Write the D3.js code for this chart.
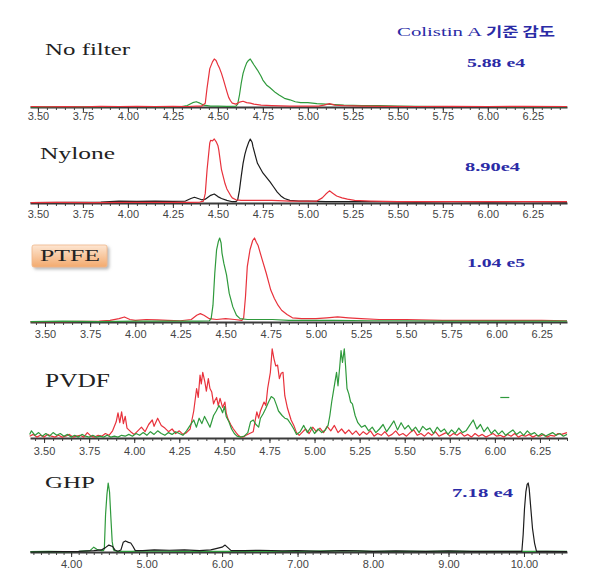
<!DOCTYPE html>
<html>
<head>
<meta charset="utf-8">
<script src="https://cdnjs.cloudflare.com/ajax/libs/d3/7.8.5/d3.min.js"></script>
<style>
  body { margin: 0; background: #fff; }
</style>
</head>
<body>
<div id="chart"></div>
<script>
// ---- data: [time (min), relative intensity %] ----
const nfRed = [[3.46,1],[3.55,0.5],[3.65,1],[3.75,0.5],[3.85,1.5],[3.95,1],[4.05,1.5],[4.15,1],[4.25,1.5],[4.33,1],[4.38,2],[4.41,2],[4.43,8],[4.44,40],[4.455,80],[4.47,94],[4.48,100],[4.49,97],[4.50,88],[4.51,80],[4.52,70],[4.53,58],[4.54,45],[4.55,32],[4.56,20],[4.57,13],[4.58,8],[4.60,6],[4.62,10],[4.64,12],[4.66,9],[4.68,8],[4.70,6],[4.74,4],[4.80,3],[4.90,2],[5.00,2],[5.06,2],[5.09,4],[5.12,7],[5.15,4],[5.20,3],[5.30,2],[5.45,1.5],[5.60,1],[5.80,1.5],[6.00,1],[6.20,1.5],[6.44,1]];
const nfGreen = [[3.46,0],[3.60,0.5],[3.80,0.5],[4.00,1],[4.20,0.5],[4.30,1],[4.33,3],[4.36,9],[4.38,11],[4.40,8],[4.42,4],[4.46,2],[4.50,2],[4.55,1.5],[4.60,2],[4.61,6],[4.62,25],[4.63,50],[4.64,70],[4.65,82],[4.66,92],[4.67,97],[4.68,100],[4.69,94],[4.70,88],[4.72,77],[4.74,64],[4.75,56],[4.77,46],[4.79,40],[4.82,30],[4.84,25],[4.87,18],[4.90,15],[4.93,11],[4.96,9],[5.00,9],[5.05,7],[5.10,6],[5.15,5],[5.20,4],[5.30,3],[5.40,3],[5.50,2],[5.60,1.5],[5.80,1],[6.00,1],[6.20,0.5],[6.44,0.5]];

const nyRed = [[3.46,0.5],[3.60,1],[3.80,0.5],[4.00,1],[4.20,1],[4.35,1],[4.40,1.5],[4.42,3],[4.43,15],[4.44,52],[4.45,80],[4.455,94],[4.46,98],[4.47,97],[4.48,100],[4.49,96],[4.50,90],[4.505,83],[4.52,52],[4.54,30],[4.55,22],[4.57,12],[4.58,8],[4.60,5],[4.63,4],[4.70,4],[4.80,4],[4.90,3],[5.00,3],[5.05,3],[5.08,8],[5.10,14],[5.12,19],[5.14,15],[5.16,11],[5.19,8],[5.22,6],[5.26,4],[5.35,3],[5.50,2],[5.70,2],[5.90,2],[6.10,2],[6.30,2],[6.44,2]];
const nyBlack = [[3.46,0.5],[3.70,1],[3.85,1.5],[3.95,3],[4.05,2.5],[4.15,3],[4.25,2.5],[4.32,3],[4.35,7],[4.37,9],[4.39,7],[4.41,5],[4.43,6],[4.46,12],[4.48,14],[4.50,10],[4.52,7],[4.55,4],[4.58,2],[4.60,2],[4.61,5],[4.62,20],[4.63,42],[4.64,62],[4.65,76],[4.66,86],[4.67,94],[4.68,100],[4.69,95],[4.695,88],[4.71,72],[4.72,62],[4.74,52],[4.75,47],[4.77,40],[4.79,33],[4.81,25],[4.83,17],[4.85,11],[4.87,7],[4.90,4],[4.95,3],[5.00,3],[5.10,2],[5.20,2],[5.40,2],[5.60,1.5],[5.80,2],[6.00,1.5],[6.20,2],[6.44,1.5]];

const ptGreen = [[3.42,0.5],[3.60,1],[3.80,0.5],[4.00,1],[4.20,1],[4.35,1],[4.41,1.5],[4.42,4],[4.43,20],[4.44,58],[4.45,86],[4.46,96],[4.467,100],[4.475,94],[4.48,82],[4.49,70],[4.505,56],[4.52,34],[4.54,18],[4.56,8],[4.58,4],[4.62,3],[4.70,3],[4.76,3],[4.85,2],[4.95,2],[5.10,2],[5.30,1.5],[5.50,1.5],[5.70,1],[6.00,1],[6.39,1]];
const ptRed = [[3.42,0.5],[3.60,0.5],[3.80,1],[3.86,2],[3.91,4],[3.94,6],[3.97,3],[4.00,2],[4.06,3],[4.12,2.5],[4.18,2],[4.25,1.5],[4.31,3],[4.34,8],[4.36,10],[4.38,8],[4.41,4],[4.45,3],[4.50,4],[4.55,3],[4.59,2],[4.60,5],[4.61,30],[4.62,66],[4.635,86],[4.65,97],[4.66,100],[4.67,95],[4.68,91],[4.70,76],[4.725,58],[4.74,46],[4.75,38],[4.77,28],[4.79,20],[4.81,14],[4.84,9],[4.87,5],[4.92,4],[5.00,4],[5.06,5],[5.12,6],[5.18,5],[5.25,4],[5.35,3],[5.50,3],[5.70,2],[5.90,2],[6.10,2],[6.25,2],[6.39,1.5]];

const pvRed = [[3.42,2],[3.44,4],[3.46,1],[3.48,3],[3.50,1],[3.52,4],[3.54,2],[3.56,1],[3.58,3],[3.60,1],[3.62,2],[3.64,4],[3.66,1],[3.68,2],[3.70,3],[3.72,1],[3.74,6],[3.76,2],[3.78,1],[3.80,3],[3.82,2],[3.84,5],[3.86,3],[3.88,8],[3.90,18],[3.91,28],[3.92,17],[3.93,29],[3.94,16],[3.95,24],[3.96,11],[3.98,7],[4.00,4],[4.02,8],[4.04,12],[4.06,7],[4.08,15],[4.10,20],[4.11,13],[4.13,22],[4.15,14],[4.17,11],[4.19,7],[4.21,10],[4.23,5],[4.25,8],[4.27,4],[4.29,6],[4.31,10],[4.33,30],[4.346,55],[4.355,45],[4.365,70],[4.372,60],[4.38,73],[4.392,62],[4.40,52],[4.411,66],[4.42,55],[4.43,51],[4.44,38],[4.448,42],[4.457,45],[4.466,36],[4.476,44],[4.49,34],[4.503,40],[4.51,28],[4.52,21],[4.535,15],[4.55,10],[4.565,6],[4.577,3],[4.59,1],[4.605,1],[4.62,3],[4.64,5],[4.66,7],[4.675,24],[4.68,29],[4.69,22],[4.70,30],[4.72,40],[4.73,36],[4.74,55],[4.755,73],[4.765,99],[4.775,88],[4.785,80],[4.795,81],[4.805,66],[4.815,72],[4.825,73],[4.835,47],[4.85,33],[4.87,20],[4.885,14],[4.90,6],[4.915,3],[4.93,6],[4.95,10],[4.97,5],[4.99,12],[5.01,7],[5.03,11],[5.05,6],[5.07,13],[5.09,8],[5.11,14],[5.13,6],[5.15,10],[5.17,5],[5.19,9],[5.21,4],[5.23,8],[5.25,3],[5.27,7],[5.29,4],[5.31,8],[5.33,2],[5.35,5],[5.37,3],[5.39,7],[5.41,2],[5.43,4],[5.45,8],[5.47,3],[5.49,5],[5.51,2],[5.53,6],[5.55,9],[5.57,3],[5.59,5],[5.61,2],[5.63,6],[5.65,3],[5.67,7],[5.69,2],[5.71,4],[5.73,6],[5.75,2],[5.77,5],[5.79,3],[5.81,6],[5.83,2],[5.85,4],[5.87,1],[5.89,5],[5.91,2],[5.93,4],[5.95,1],[5.97,3],[5.99,5],[6.01,2],[6.03,3],[6.05,1],[6.07,4],[6.09,2],[6.11,5],[6.13,1],[6.15,3],[6.17,2],[6.19,4],[6.21,1],[6.23,3],[6.25,2],[6.27,4],[6.29,1],[6.31,3],[6.33,2],[6.35,5],[6.37,4],[6.40,6]];
const pvGreen = [[3.42,4],[3.43,8],[3.45,3],[3.47,6],[3.49,2],[3.51,5],[3.53,2],[3.55,6],[3.57,3],[3.59,5],[3.61,2],[3.63,4],[3.65,1],[3.67,3],[3.69,1],[3.71,4],[3.73,2],[3.75,1],[3.77,3],[3.79,1],[3.81,2],[3.83,1],[3.85,3],[3.87,1],[3.89,2],[3.91,1],[3.93,3],[3.95,2],[3.97,4],[3.99,2],[4.01,5],[4.03,3],[4.05,6],[4.07,3],[4.09,7],[4.11,4],[4.13,8],[4.15,5],[4.17,3],[4.19,6],[4.21,4],[4.23,7],[4.25,5],[4.27,3],[4.29,8],[4.31,14],[4.33,20],[4.345,12],[4.36,22],[4.375,16],[4.39,24],[4.405,18],[4.42,12],[4.44,25],[4.455,30],[4.47,36],[4.48,33],[4.49,28],[4.50,35],[4.51,24],[4.525,18],[4.54,10],[4.555,5],[4.57,2],[4.59,1],[4.61,2],[4.63,6],[4.645,18],[4.66,20],[4.675,15],[4.69,12],[4.70,22],[4.715,27],[4.73,33],[4.745,40],[4.76,46],[4.775,44],[4.79,36],[4.80,30],[4.82,25],[4.835,22],[4.85,21],[4.87,15],[4.885,10],[4.90,4],[4.92,7],[4.94,14],[4.96,6],[4.98,12],[5.00,5],[5.02,10],[5.04,6],[5.06,9],[5.075,14],[5.085,25],[5.095,40],[5.104,51],[5.113,62],[5.122,73],[5.13,58],[5.14,80],[5.147,97],[5.155,84],[5.165,99],[5.172,80],[5.18,55],[5.19,49],[5.20,40],[5.21,38],[5.225,25],[5.24,17],[5.26,12],[5.28,14],[5.30,8],[5.32,12],[5.34,6],[5.36,10],[5.38,15],[5.40,7],[5.42,13],[5.44,19],[5.46,9],[5.48,17],[5.50,10],[5.52,14],[5.54,8],[5.56,12],[5.58,6],[5.60,13],[5.62,9],[5.64,11],[5.66,5],[5.68,12],[5.70,7],[5.72,10],[5.74,4],[5.76,9],[5.78,5],[5.80,11],[5.82,6],[5.84,8],[5.86,14],[5.88,20],[5.90,10],[5.92,15],[5.94,7],[5.96,12],[5.98,5],[6.00,9],[6.02,4],[6.04,8],[6.06,3],[6.08,6],[6.10,9],[6.12,4],[6.14,7],[6.16,3],[6.18,8],[6.20,4],[6.22,6],[6.24,2],[6.26,5],[6.28,2],[6.30,4],[6.32,6],[6.34,3],[6.36,5],[6.38,2],[6.40,4]];
const pvDash = [[6.03,45],[6.08,45]];

const ghGreen = [[3.46,0.5],[3.70,1],[3.90,0.5],[4.10,1],[4.25,2],[4.30,7],[4.34,4],[4.40,2],[4.43,2],[4.44,5],[4.456,54],[4.474,83],[4.491,100],[4.509,87],[4.527,49],[4.544,15],[4.562,3],[4.60,1],[4.80,1],[5.00,1.5],[5.40,1],[5.80,1],[6.20,1],[6.60,1],[7.00,1],[7.60,2],[8.00,1],[8.60,1],[9.20,1],[9.60,1],[10.00,1],[10.57,1]];
const ghBlack = [[3.46,0],[3.80,0.5],[4.10,1],[4.30,2],[4.40,3],[4.45,6],[4.50,10],[4.55,8],[4.58,3],[4.62,1],[4.66,3],[4.69,14],[4.72,16],[4.76,14],[4.79,13],[4.82,8],[4.85,2],[4.95,2],[5.10,3],[5.30,2.5],[5.50,3],[5.70,2],[5.85,3],[5.92,5],[6.00,7],[6.04,10],[6.08,6],[6.12,2],[6.30,2],[6.50,2.5],[6.80,1.5],[7.00,2],[7.30,1],[7.60,2],[7.80,1.5],[8.00,1],[8.30,1.5],[8.70,1],[9.00,1.5],[9.30,1],[9.60,1],[9.90,1],[9.972,1],[9.989,25],[10.007,63],[10.025,87],[10.042,98],[10.056,100],[10.069,92],[10.087,68],[10.113,34],[10.14,13],[10.166,1],[10.30,1],[10.57,0.5]];

const ticksShort = [3.50, 3.75, 4.00, 4.25, 4.50, 4.75, 5.00, 5.25, 5.50, 5.75, 6.00, 6.25];
const ticksLong = [4, 5, 6, 7, 8, 9, 10];
const titles = ["No filter", "Nylone", "PTFE", "PVDF", "GHP"];
const intensities = ["5.88 e4", "8.90e4", "1.04 e5", "", "7.18 e4"];

const RED = "#e8323c", GREEN = "#2f9a3c", BLACK = "#1c1c1c", BLUE = "#2b2ba6";
const serif = "'Liberation Serif', 'DejaVu Serif', serif";

const svg = d3.select("#chart").append("svg")
    .attr("width", 601)
    .attr("height", 578)
    .style("display", "block")
    .style("background", "#fff");

const defs = svg.append("defs");
const grad = defs.append("linearGradient").attr("id", "ptfeGrad")
    .attr("x1", 0).attr("y1", 0).attr("x2", 0).attr("y2", 1);
grad.append("stop").attr("offset", "0%").attr("stop-color", "#fde6d2");
grad.append("stop").attr("offset", "100%").attr("stop-color", "#f3aa6e");
defs.append("filter").attr("id", "shadow")
    .attr("x", "-20%").attr("y", "-20%").attr("width", "150%").attr("height", "160%")
    .append("feDropShadow")
    .attr("dx", 2).attr("dy", 2).attr("stdDeviation", 1.5)
    .attr("flood-color", "#888").attr("flood-opacity", 0.6);

const panels = [
    {base: 107, top: 59,  domain: [3.456, 6.44], ticks: ticksShort, step: 0.05, lab: 13,
     series: [[nfGreen, GREEN], [nfRed, RED]],
     title: {x: 45, y: 55, len: 85, size: 17}, num: {x: 467, y: 66.5, len: 58}},
    {base: 203, top: 139, domain: [3.456, 6.44], ticks: ticksShort, step: 0.05, lab: 15,
     series: [[nyBlack, BLACK], [nyRed, RED]],
     title: {x: 40, y: 159, len: 75, size: 17.5}, num: {x: 465, y: 170.5, len: 55}},
    {base: 322, top: 238, domain: [3.417, 6.39], ticks: ticksShort, step: 0.05, lab: 15.5,
     series: [[ptRed, RED], [ptGreen, GREEN]],
     title: {x: 40, y: 261, len: 60, size: 16}, num: {x: 467, y: 266.5, len: 58}},
    {base: 438, top: 348, domain: [3.422, 6.40], ticks: ticksShort, step: 0.05, lab: 17,
     series: [[pvRed, RED], [pvGreen, GREEN], [pvDash, GREEN]],
     title: {x: 45, y: 387, len: 65, size: 18}, num: null},
    {base: 552, top: 483, domain: [3.455, 10.57], ticks: ticksLong, step: 0.1, lab: 16,
     series: [[ghGreen, GREEN], [ghBlack, BLACK]],
     title: {x: 45, y: 488, len: 50, size: 17.5}, num: {x: 452, y: 496.5, len: 61}}
];

// PTFE label box
svg.append("rect")
    .attr("x", 32).attr("y", 245).attr("width", 75).attr("height", 22)
    .attr("rx", 2)
    .attr("fill", "url(#ptfeGrad)")
    .attr("stroke", "#f0b88a").attr("stroke-width", 0.8)
    .attr("filter", "url(#shadow)");

panels.forEach((p, i) => {
    const x = d3.scaleLinear().domain(p.domain).range([30, 567]);
    const y = d3.scaleLinear().domain([0, 100]).range([p.base, p.top]);
    const g = svg.append("g");

    // minor ticks
    const minor = d3.range(Math.ceil(p.domain[0] / p.step), Math.floor(p.domain[1] / p.step) + 1)
        .map(k => k * p.step);
    g.append("g")
        .attr("transform", "translate(0," + p.base + ")")
        .call(d3.axisBottom(x).tickValues(minor).tickSize(3).tickSizeOuter(0).tickFormat(""))
        .call(a => a.select(".domain").remove())
        .selectAll("line").attr("stroke", "#444");

    // major ticks + labels + axis line
    const axis = g.append("g")
        .attr("transform", "translate(0," + p.base + ")")
        .call(d3.axisBottom(x).tickValues(p.ticks).tickSize(5).tickSizeOuter(0)
            .tickPadding(p.lab - 7.8 - 5).tickFormat(d3.format(".2f")));
    axis.select(".domain").attr("stroke", "#3a3a3a").attr("stroke-width", 2);
    axis.selectAll("line").attr("stroke", "#333");
    axis.selectAll("text")
        .attr("fill", "#444")
        .attr("font-family", "'Liberation Sans', Arial, sans-serif")
        .attr("font-size", 11);

    const line = d3.line().x(d => x(d[0])).y(d => y(d[1]));
    p.series.forEach(([data, color]) => {
        g.append("path")
            .datum(data)
            .attr("d", line)
            .attr("fill", "none")
            .attr("stroke", color)
            .attr("stroke-width", 1.2)
            .attr("stroke-linejoin", "round");
    });

    g.append("text")
        .attr("x", p.title.x).attr("y", p.title.y)
        .attr("font-family", serif)
        .attr("font-size", p.title.size)
        .attr("fill", "#222")
        .attr("textLength", p.title.len)
        .attr("lengthAdjust", "spacingAndGlyphs")
        .text(titles[i]);

    if (p.num) {
        g.append("text")
            .attr("x", p.num.x).attr("y", p.num.y)
            .attr("font-family", serif)
            .attr("font-weight", "bold")
            .attr("font-size", 13.5)
            .attr("fill", BLUE)
            .attr("textLength", p.num.len)
            .attr("lengthAdjust", "spacingAndGlyphs")
            .text(intensities[i]);
    }
});

// header
svg.append("text")
    .attr("x", 397).attr("y", 36)
    .attr("font-family", serif)
    .attr("font-size", 13.5)
    .attr("fill", BLUE)
    .attr("textLength", 85)
    .attr("lengthAdjust", "spacingAndGlyphs")
    .text("Colistin A");
svg.append("text")
    .attr("x", 486).attr("y", 36)
    .attr("font-family", "'Noto Sans CJK KR', sans-serif")
    .attr("font-weight", "bold")
    .attr("font-size", 13)
    .attr("fill", BLUE)
    .attr("textLength", 69)
    .attr("lengthAdjust", "spacingAndGlyphs")
    .text("기준 감도");
</script>
</body>
</html>
